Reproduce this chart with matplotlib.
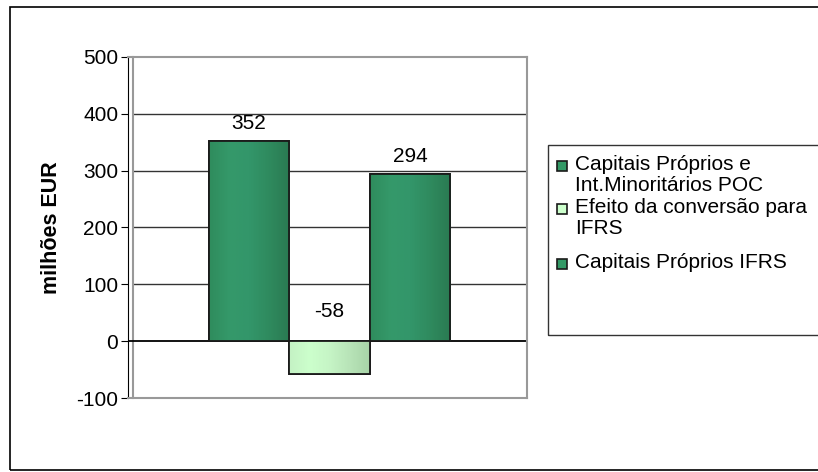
import numpy as np
import matplotlib.pyplot as plt
from matplotlib.patches import Rectangle
from matplotlib.colors import LinearSegmentedColormap

plt.rcParams['font.family'] = ['Liberation Sans', 'DejaVu Sans']
plt.rcParams['axes.unicode_minus'] = False

# Data
series = ["Capitais Próprios e\nInt.Minoritários POC",
          "Efeito da conversão para\nIFRS",
          "Capitais Próprios IFRS"]
values = [352, -58, 294]
colors = ["#339966", "#CCFFCC", "#339966"]
yticks = [-100, 0, 100, 200, 300, 400, 500]

# column shading (left -> right) to mimic the 3D cylinder look
shades = {
    "#339966": ["#2f8c5d", "#35996a", "#33966a", "#2f8a5e", "#2a7a52"],
    "#CCFFCC": ["#c4f2c4", "#ccffcc", "#c6f5c6", "#b8e4b8", "#a8d4a8"],
}

W, H = 818, 472
fig = plt.figure(figsize=(W / 100, H / 100), dpi=100)

# outer chart border
fig.patches.append(Rectangle((10 / W, 2 / H), 1.0, 463 / H,
                             transform=fig.transFigure, fill=False,
                             edgecolor="black", linewidth=1.2))

ax = fig.add_axes([128 / W, 1 - 398 / H, 399 / W, 341 / H])

grad = np.linspace(0, 1, 64).reshape(1, -1)
for i, (name, v, c) in enumerate(zip(series, values, colors)):
    b = ax.bar(i, v, width=1.0, color=c, edgecolor="#1a1a1a", linewidth=1.3,
               label=name, zorder=3)[0]
    cmap = LinearSegmentedColormap.from_list("col%d" % i, shades[c])
    im = ax.imshow(grad, cmap=cmap, aspect="auto", zorder=3.1,
                   extent=(i - 0.5, i + 0.5, min(v, 0), max(v, 0)))
    im.set_clip_path(b)
    ax.bar(i, v, width=1.0, fill=False, edgecolor="#1a1a1a", linewidth=1.3,
           zorder=3.2)

# value labels
for i, v in enumerate(values):
    base = max(v, 0)
    off = 18 if v > 0 else 30
    ax.annotate(str(v), (i, base), xytext=(0, off), textcoords="offset pixels",
                ha="center", va="center", fontsize=15)

ax.set_xlim(-1.5, 3.45)
ax.set_ylim(-100, 500)
ax.set_yticks(yticks)
ax.set_xticks([])
ax.tick_params(axis="y", labelsize=15, length=5, direction="out", pad=2)

for y in [100, 200, 300, 400]:
    ax.axhline(y, xmin=0.012, color="#333333", linewidth=1, zorder=1)
ax.axhline(0, color="black", linewidth=1.3, zorder=2)

# back wall edge (3D look)
ax.plot([0.012, 0.012], [0, 1], transform=ax.transAxes, color="#999999",
        linewidth=1.5, zorder=1, clip_on=False)

ax.spines["left"].set_color("black")
for s in ["top", "right", "bottom"]:
    ax.spines[s].set_color("#999999")
    ax.spines[s].set_linewidth(1.5)

ax.set_ylabel("milhões EUR", fontsize=15.5, fontweight="bold")
ax.yaxis.set_label_coords(-0.165, 0.5)

# legend box with manually placed entries
fig.patches.append(Rectangle((548 / W, 1 - 335 / H), 0.5, 190 / H,
                             transform=fig.transFigure, fill=False,
                             edgecolor="#333333", linewidth=1))
entry_y = [166, 209, 264]
for name, c, y in zip(series, colors, entry_y):
    fig.patches.append(Rectangle((557 / W, 1 - (y + 5) / H), 10 / W, 10 / H,
                                 transform=fig.transFigure, facecolor=c,
                                 edgecolor="#1a1a1a", linewidth=1.2))
    fig.text(575 / W, 1 - (y - 11) / H, name, fontsize=15, ha="left",
             va="top", linespacing=1.12)

plt.savefig("out.png", dpi=100)
